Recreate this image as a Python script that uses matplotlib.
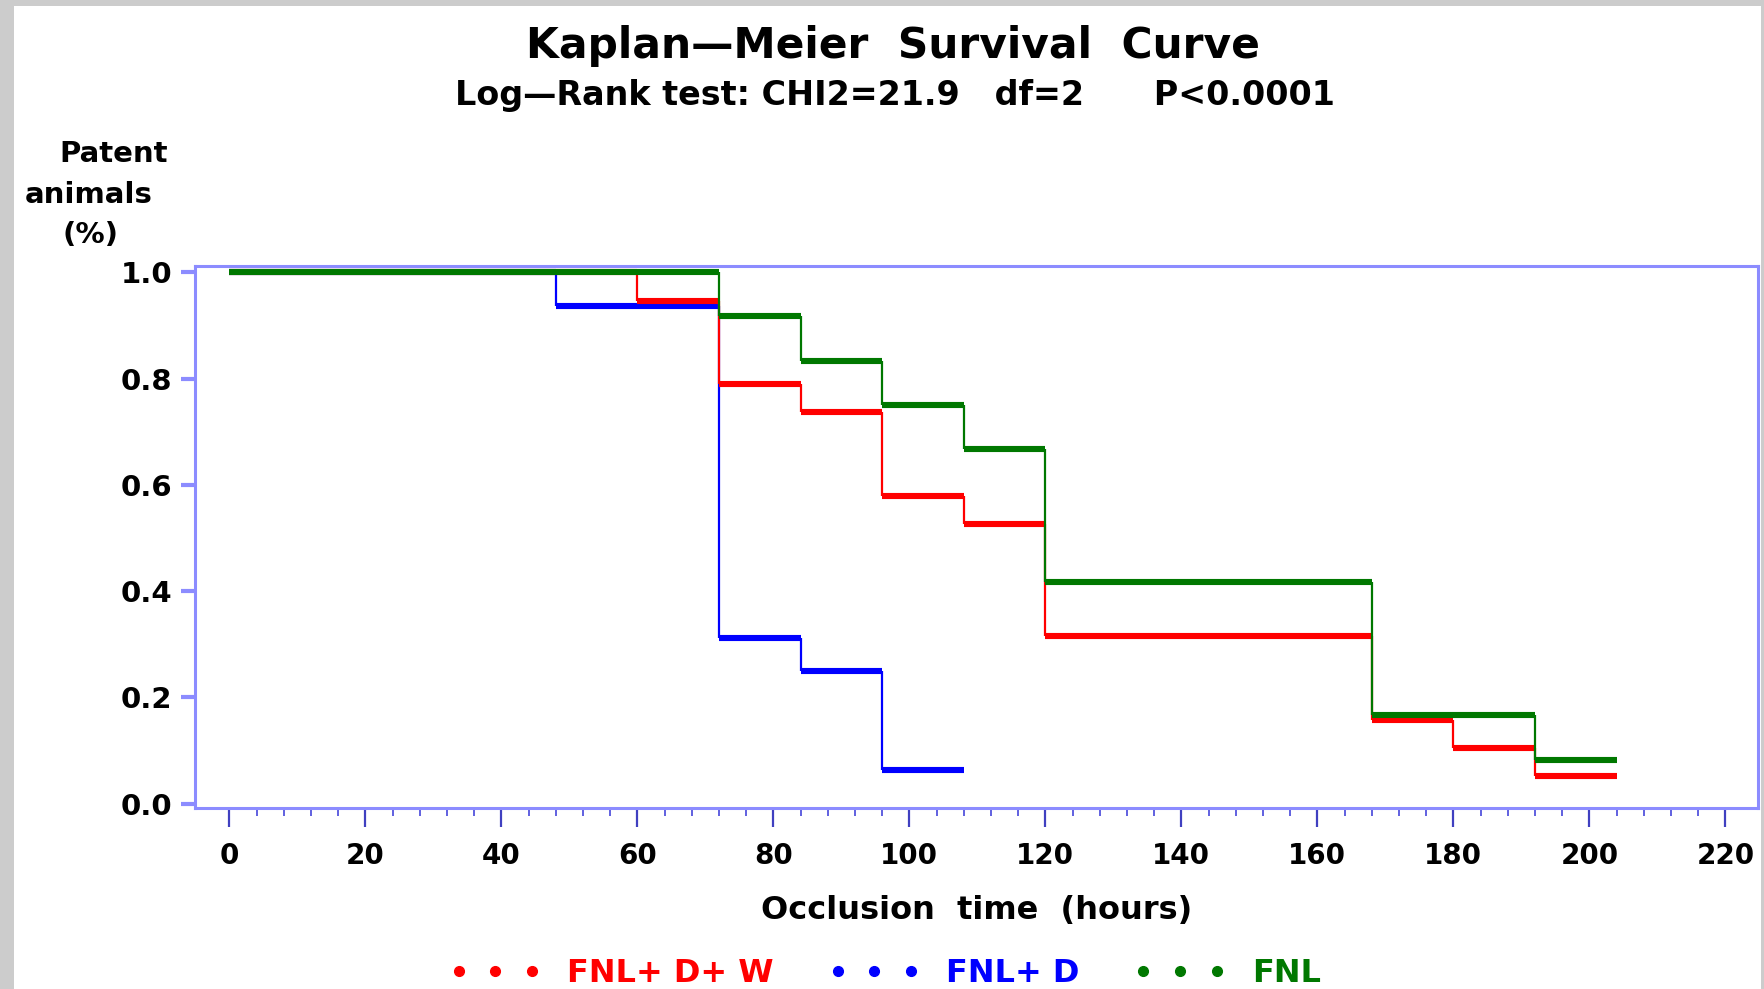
import matplotlib
matplotlib.use("Agg")
import matplotlib.pyplot as plt
from matplotlib.lines import Line2D
from matplotlib.patches import Rectangle
import numpy as np

# ---- data ----
red_label = "FNL+ D+ W"
red_times = [0, 60, 72, 84, 96, 108, 120, 168, 180, 192, 204]
red_surv = [1.0, 0.947, 0.789, 0.737, 0.579, 0.526, 0.316, 0.158, 0.105, 0.053]

blue_label = "FNL+ D"
blue_times = [0, 48, 72, 84, 96, 108]
blue_surv = [1.0, 0.9375, 0.3125, 0.25, 0.0625]

green_label = "FNL"
green_times = [0, 72, 84, 96, 108, 120, 168, 192, 204]
green_surv = [1.0, 0.917, 0.833, 0.75, 0.667, 0.417, 0.167, 0.083]

x_ticks = list(range(0, 221, 20))
y_ticks = [0.0, 0.2, 0.4, 0.6, 0.8, 1.0]

title = "Kaplan\u2014Meier  Survival  Curve"
subtitle = "Log\u2014Rank test: CHI2=21.9   df=2      P<0.0001"
xlabel = "Occlusion  time  (hours)"

plt.rcParams['font.family'] = ['DejaVu Sans']
plt.rcParams['font.weight'] = 'bold'

W, H = 1765, 989
fig = plt.figure(figsize=(W / 100, H / 100), dpi=100, facecolor='#cccccc')
fig.add_artist(Rectangle((14 / W, 0), (1761 - 14) / W, 1 - 6 / H,
                         transform=fig.transFigure, facecolor='white',
                         edgecolor='none', zorder=0))

ax = fig.add_axes([194.7 / W, 1 - 808.2 / H, (1758 - 194.7) / W, (808.2 - 265.7) / H])
ax.set_facecolor('white')

spine_col = '#8c8cff'

def km(ax, t, s, color):
    t = np.asarray(t, float)
    s = np.asarray(s, float)
    ax.hlines(s, t[:-1], t[1:], color=color, lw=4.4, zorder=3)
    ax.vlines(t[1:-1], s[1:], s[:-1], color=color, lw=1.6, zorder=3)

km(ax, blue_times, blue_surv, '#0000ff')
km(ax, red_times, red_surv, '#ff0000')
km(ax, green_times, green_surv, '#007800')

ax.set_xlim(-5.1, 224.8)
ax.set_ylim(-0.0085, 1.0126)
ax.set_xticks(x_ticks)
ax.set_xticks(np.arange(0, 224, 4), minor=True)
ax.set_yticks(y_ticks)
ax.set_xticklabels([str(v) for v in x_ticks])
ax.set_yticklabels([f"{v:.1f}" for v in y_ticks])

for sp in ax.spines.values():
    sp.set_color(spine_col)
    sp.set_linewidth(2.2)

ax.tick_params(axis='x', which='major', direction='out', length=14, width=1.6,
               color='#4040c0', labelsize=20, pad=10)
ax.tick_params(axis='x', which='minor', direction='out', length=6, width=1.4,
               color='#6060e0')
ax.tick_params(axis='y', which='major', direction='out', length=10, width=3,
               color=spine_col, labelsize=21, pad=6)
for lab in ax.get_xticklabels() + ax.get_yticklabels():
    lab.set_fontweight('bold')

fig.text(893 / W, 1 - 46 / H, title, ha='center', va='center', fontsize=30.5, fontweight='bold')
fig.text(895 / W, 1 - 95 / H, subtitle, ha='center', va='center', fontsize=24, fontweight='bold')
fig.text(977 / W, 1 - 910 / H, xlabel, ha='center', va='center', fontsize=23, fontweight='bold')

fig.text(114 / W, 1 - 154 / H, "Patent", ha='center', va='center', fontsize=21, fontweight='bold')
fig.text(89 / W, 1 - 195 / H, "animals", ha='center', va='center', fontsize=21, fontweight='bold')
fig.text(91 / W, 1 - 235 / H, "(%)", ha='center', va='center', fontsize=21, fontweight='bold')

handles = [Line2D([], [], ls='none', marker='o', markersize=7, color=c)
           for c in ['#ff0000', '#0000ff', '#007800']]
leg = fig.legend(handles, [red_label, blue_label, green_label], loc='center',
                 bbox_to_anchor=(885 / W, 1 - 974 / H), ncol=3, frameon=False,
                 numpoints=3, handlelength=2.9, handletextpad=0.8, columnspacing=1.7,
                 prop={'size': 23, 'weight': 'bold'},
                 labelcolor=['#ff0000', '#0000ff', '#007800'])

fig.savefig('out.png', dpi=100, facecolor=fig.get_facecolor())
